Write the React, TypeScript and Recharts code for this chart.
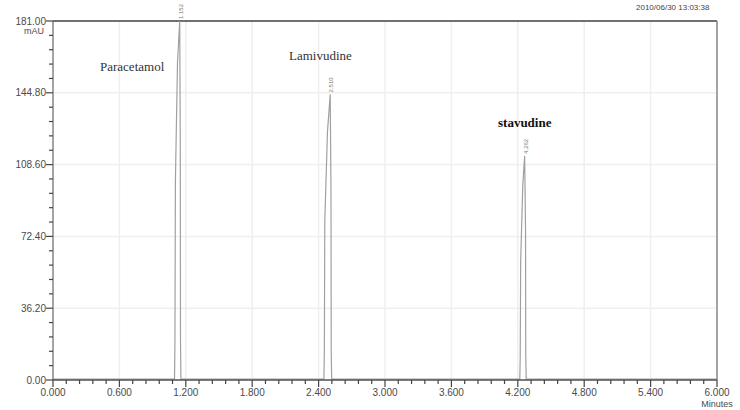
import React from "react"
import { LineChart, Line, XAxis, YAxis, CartesianGrid, ReferenceLine } from "recharts"

// retention time (min) and detector signal (mAU)
const timeMin = [
  0, 1.098, 1.102, 1.106, 1.125, 1.145, 1.150, 1.152, 1.156,
  2.448, 2.452, 2.456, 2.480, 2.505, 2.512, 2.514, 2.518,
  4.218, 4.222, 4.226, 4.245, 4.262, 4.270, 4.272, 4.276, 6.0,
]
const signalMAU = [
  0.4, 0.4, 20, 100, 160, 181, 120, 20, 0.4,
  0.4, 15, 80, 125, 144, 95, 15, 0.4,
  0.4, 12, 60, 98, 113, 75, 12, 0.4, 0.4,
]

const peakIndex = [5, 13, 21]
const peakLabels = ["1.152", "2.510", "4.262"]

const xMajorTicks = [0, 0.6, 1.2, 1.8, 2.4, 3.0, 3.6, 4.2, 4.8, 5.4, 6.0]
const yMajorTicks = [0, 36.2, 72.4, 108.6, 144.8, 181]

const xTicks = Array.from({ length: 51 }, (_, i) => +(i * 0.12).toFixed(3))
const yTicks = Array.from({ length: 26 }, (_, i) => +(i * 7.24).toFixed(2))

const data = timeMin.map((t, i) => ({ t, v: signalMAU[i] }))

const tickColor = "#4a4a4a"
const tickFont = "'Liberation Sans', Arial, sans-serif"

const isMajor = (v: number, list: number[]) => list.some((m) => Math.abs(m - v) < 1e-6)

// y here is already 4px below the axis (end of the minor tick line)
function XTick({ x, y, payload }: any) {
  const major = isMajor(payload.value, xMajorTicks)
  if (!major) return null
  return (
    <g>
      <line x1={x} x2={x} y1={y} y2={y + 3} stroke="#444" strokeWidth={1.2} />
      <text x={x} y={y + 12} textAnchor="middle" fontSize={10} fill={tickColor} fontFamily={tickFont}>
        {payload.value.toFixed(3)}
      </text>
      {payload.value === 6 && (
        <text x={x} y={y + 23} textAnchor="middle" fontSize={9} fill={tickColor} fontFamily={tickFont}>
          Minutes
        </text>
      )}
    </g>
  )
}

function YTick({ x, y, payload }: any) {
  const major = isMajor(payload.value, yMajorTicks)
  if (!major) return null
  return (
    <g>
      <line x1={x} x2={x - 3} y1={y} y2={y} stroke="#444" strokeWidth={1.2} />
      <text x={x - 3} y={y + 3.5} textAnchor="end" fontSize={10} fill={tickColor} fontFamily={tickFont}>
        {payload.value.toFixed(2)}
      </text>
      {payload.value === 181 && (
        <text x={x - 5} y={y + 13} textAnchor="end" fontSize={9} fill={tickColor} fontFamily={tickFont}>
          mAU
        </text>
      )}
    </g>
  )
}

// small rotated retention-time label at each peak apex
function PeakDot(props: any) {
  const { cx, cy, index } = props
  const k = peakIndex.indexOf(index)
  if (k < 0 || cx == null || cy == null) return null
  return (
    <text
      x={cx + 3}
      y={cy - 2}
      transform={`rotate(-90 ${cx + 3} ${cy - 2})`}
      fontSize={6}
      fill="#777"
      fontFamily={tickFont}
    >
      {peakLabels[k]}
    </text>
  )
}

const serif = "'Liberation Serif', 'Times New Roman', serif"

export default function App() {
  return (
    <div style={{ position: "absolute", left: 0, top: 0, width: 740, height: 410, background: "#fff" }}>
      <LineChart width={740} height={410} data={data} margin={{ top: 21, right: 23, left: 0, bottom: 0 }}>
        <CartesianGrid
          verticalValues={xMajorTicks}
          horizontalValues={yMajorTicks}
          stroke="#efefef"
          strokeWidth={1.5}
        />
        <XAxis
          dataKey="t"
          type="number"
          domain={[0, 6]}
          ticks={xTicks}
          interval={0}
          height={30}
          tickSize={4}
          tickMargin={0}
          tickLine={{ stroke: "#444", strokeWidth: 1.2 }}
          axisLine={{ stroke: "#555", strokeWidth: 1.5 }}
          tick={<XTick />}
        />
        <YAxis
          type="number"
          domain={[0, 181]}
          ticks={yTicks}
          interval={0}
          width={53}
          tickSize={4}
          tickMargin={0}
          tickLine={{ stroke: "#444", strokeWidth: 1.2 }}
          axisLine={{ stroke: "#555" }}
          tick={<YTick />}
        />
        <ReferenceLine y={181} stroke="#707070" strokeWidth={2} />
        <ReferenceLine x={6} stroke="#8a8a8a" strokeWidth={1.5} />
        <Line
          type="linear"
          dataKey="v"
          stroke="#a0a0a0"
          strokeWidth={1.2}
          dot={<PeakDot />}
          activeDot={false}
          isAnimationActive={false}
        />
      </LineChart>
      <div style={{ position: "absolute", left: 636, top: 3, fontSize: 8, color: "#444", fontFamily: tickFont }}>
        2010/06/30 13:03:38
      </div>
      <div style={{ position: "absolute", left: 100, top: 59, fontSize: 13, color: "#333", fontFamily: serif }}>
        Paracetamol
      </div>
      <div style={{ position: "absolute", left: 289, top: 48, fontSize: 13, color: "#333", fontFamily: serif }}>
        Lamivudine
      </div>
      <div
        style={{ position: "absolute", left: 498, top: 115, fontSize: 13, fontWeight: "bold", color: "#111", fontFamily: serif }}
      >
        stavudine
      </div>
    </div>
  )
}
